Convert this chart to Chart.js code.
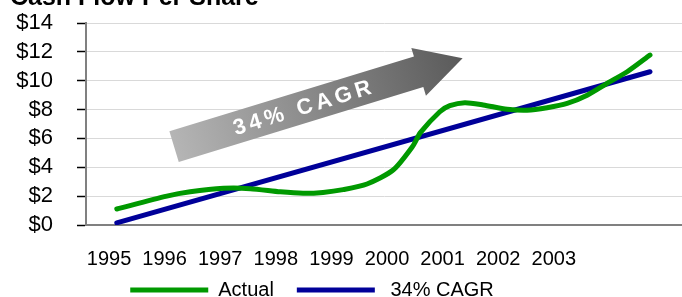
<!DOCTYPE html>
<html>
<head>
<meta charset="utf-8">
<script src="https://cdn.jsdelivr.net/npm/chart.js@4/dist/chart.umd.min.js"></script>
<style>
  body { margin: 0; background: #fff; }
  #wrap { width: 682px; height: 297px; }
</style>
</head>
<body>
<div id="wrap"><canvas id="cfps" width="682" height="297"></canvas></div>
<script>
// tick labels
const years = [1995, 1996, 1997, 1998, 1999, 2000, 2001, 2002, 2003];
const yTicks = [0, 2, 4, 6, 8, 10, 12, 14];

// Actual cash flow per share (x in label units)
const actualX = [1995.14, 1996.04, 1996.46, 1997.06, 1997.54, 1998.08, 1998.49, 1998.85, 1999.21, 1999.64,
  2000.11, 2000.47, 2000.6, 2000.95, 2001.13, 2001.4, 2001.73, 2002.16, 2002.52, 2002.88,
  2003.24, 2003.6, 2003.96, 2004.32, 2004.73];
const actualY = [1.11, 2.0, 2.3, 2.54, 2.52, 2.3, 2.2, 2.26, 2.45, 2.84,
  3.81, 5.5, 6.4, 7.85, 8.27, 8.48, 8.32, 8.02, 7.95, 8.13,
  8.43, 9.0, 9.82, 10.62, 11.78];

// 34% CAGR trend line
const cagrX = [1995.14, 2004.73];
const cagrY = [0.15, 10.62];

const seriesNames = ['Actual', ' 34% CAGR'];
const FONT = "'Liberation Sans', Arial, sans-serif";

function toPoints(xs, ys) {
  return xs.map((x, i) => ({ x: x, y: ys[i] }));
}

// big grey arrow with the growth label, anchored in data units
const arrowPlugin = {
  id: 'cagrArrow',
  beforeDatasetsDraw(chart) {
    const { ctx, scales } = chart;
    const x0 = scales.x.getPixelForValue(1996.17), y0 = scales.y.getPixelForValue(5.43);
    const x1 = scales.x.getPixelForValue(2001.36), y1 = scales.y.getPixelForValue(11.55);
    const len = Math.hypot(x1 - x0, y1 - y0);
    const ang = Math.atan2(y1 - y0, x1 - x0);
    const bodyH = 16, headH = 25, headL = 46;
    ctx.save();
    ctx.translate(x0, y0);
    ctx.rotate(ang);
    const g = ctx.createLinearGradient(0, 0, len, 0);
    g.addColorStop(0, '#b5b5b5');
    g.addColorStop(1, '#5a5a5a');
    ctx.fillStyle = g;
    ctx.beginPath();
    ctx.moveTo(0, -bodyH);
    ctx.lineTo(len - headL, -bodyH);
    ctx.lineTo(len - headL, -headH);
    ctx.lineTo(len, 0);
    ctx.lineTo(len - headL, headH);
    ctx.lineTo(len - headL, bodyH);
    ctx.lineTo(0, bodyH);
    ctx.closePath();
    ctx.fill();
    ctx.fillStyle = '#ffffff';
    ctx.font = 'bold 22px ' + FONT;
    ctx.letterSpacing = '4px';
    ctx.textAlign = 'center';
    ctx.textBaseline = 'middle';
    ctx.fillText('34% CAGR', len * 0.45, 1);
    ctx.restore();
  }
};

// title sits mostly above the visible canvas
const titlePlugin = {
  id: 'clippedTitle',
  afterDraw(chart) {
    const ctx = chart.ctx;
    ctx.save();
    ctx.fillStyle = '#000';
    ctx.font = 'bold 25px ' + FONT;
    ctx.textBaseline = 'alphabetic';
    ctx.textAlign = 'left';
    ctx.fillText('Cash Flow Per Share', 10, 5);
    ctx.restore();
  }
};

// put the legend where the original has it
const legendShift = {
  id: 'legendShift',
  afterLayout(chart) {
    const lg = chart.legend;
    const h = lg.bottom - lg.top;
    lg.left -= 29;
    lg.right -= 29;
    lg.top = 257;
    lg.bottom = 257 + h;
  }
};

const ctx = document.getElementById('cfps').getContext('2d');
new Chart(ctx, {
  type: 'line',
  data: {
    datasets: [{
      label: seriesNames[0],
      data: toPoints(actualX, actualY),
      borderColor: '#009900',
      backgroundColor: '#009900',
      borderWidth: 5,
      borderCapStyle: 'round',
      borderJoinStyle: 'round',
      pointRadius: 0,
      tension: 0.25,
      fill: false
    }, {
      label: seriesNames[1],
      data: toPoints(cagrX, cagrY),
      borderColor: '#000099',
      backgroundColor: '#000099',
      borderWidth: 5,
      borderCapStyle: 'round',
      pointRadius: 0,
      fill: false
    }]
  },
  options: {
    responsive: false,
    animation: false,
    layout: { padding: { top: 23, right: 0, left: 0, bottom: -31 } },
    scales: {
      x: {
        type: 'linear',
        min: 1994.586,
        max: 2005.306,
        afterBuildTicks: (s) => { s.ticks = years.map(v => ({ value: v })); },
        afterFit: (s) => { s.height = 50; },
        grid: { display: false, drawTicks: false },
        border: { display: true, color: '#808080', width: 2 },
        ticks: {
          color: '#000',
          font: { family: FONT, size: 20 },
          padding: 22,
          maxRotation: 0,
          autoSkip: false,
          callback: (v) => String(v)
        }
      },
      y: {
        min: 0,
        max: 14,
        afterBuildTicks: (s) => { s.ticks = yTicks.map(v => ({ value: v })); },
        afterFit: (s) => {
          s.width = 86;
          s.paddingTop = 0;
          s.paddingBottom = 0;
        },
        grid: {
          color: '#d9d9d9',
          lineWidth: 1,
          tickLength: 9,
          tickColor: '#000',
          tickWidth: 1.5
        },
        border: { display: true, color: '#808080', width: 2 },
        ticks: {
          color: '#000',
          font: { family: FONT, size: 22 },
          padding: 24,
          autoSkip: false,
          callback: (v) => '$' + v
        }
      }
    },
    plugins: {
      title: { display: false },
      tooltip: { enabled: false },
      legend: {
        position: 'bottom',
        labels: {
          color: '#000',
          font: { family: FONT, size: 20 },
          boxWidth: 78,
          boxHeight: 5,
          padding: 23,
          generateLabels: (chart) => chart.data.datasets.map((d, i) => ({
            text: d.label,
            fillStyle: d.borderColor,
            strokeStyle: d.borderColor,
            lineWidth: 0,
            hidden: false,
            datasetIndex: i
          }))
        }
      }
    }
  },
  plugins: [arrowPlugin, titlePlugin, legendShift]
});
</script>
</body>
</html>
